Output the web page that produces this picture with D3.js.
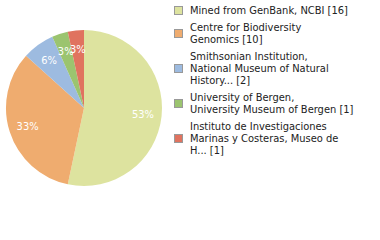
<html>
<head>
<script src="https://d3js.org/d3.v7.min.js"></script>
<style>
body { margin: 0; background: #fff; }
text { font-family: "DejaVu Sans Condensed", "DejaVu Sans", sans-serif; }
</style>
</head>
<body>
<div id="chart"></div>
<script>
// data
var names = [
  ["Mined from GenBank, NCBI [16]"],
  ["Centre for Biodiversity", "Genomics [10]"],
  ["Smithsonian Institution,", "National Museum of Natural", "History... [2]"],
  ["University of Bergen,", "University Museum of Bergen [1]"],
  ["Instituto de Investigaciones", "Marinas y Costeras, Museo de", "H... [1]"]
];
var counts = [16, 10, 2, 1, 1];
var colors = ["#dde39f", "#efac6f", "#9dbbe0", "#9bc46f", "#e0735f"];

var width = 380, height = 240;
var cx = 84, cy = 108, radius = 78;

var svg = d3.select("#chart").append("svg")
  .attr("width", width)
  .attr("height", height);

var total = d3.sum(counts);
var pie = d3.pie().sort(null).value(function(d) { return d; });
var arcs = pie(counts);
var arc = d3.arc().innerRadius(0).outerRadius(radius);
var labelArc = d3.arc().innerRadius(radius * 0.76).outerRadius(radius * 0.76);

var g = svg.append("g").attr("transform", "translate(" + cx + "," + cy + ")");

g.selectAll("path.slice")
  .data(arcs)
  .enter().append("path")
  .attr("class", "slice")
  .attr("d", arc)
  .attr("fill", function(d, i) { return colors[i]; });

g.selectAll("text.pct")
  .data(arcs)
  .enter().append("text")
  .attr("class", "pct")
  .attr("transform", function(d) { return "translate(" + labelArc.centroid(d) + ")"; })
  .attr("text-anchor", "middle")
  .attr("dy", "0.35em")
  .attr("fill", "#fff")
  .style("font-size", "11px")
  .text(function(d) { return Math.floor(d.value / total * 100) + "%"; });

// legend
var lineH = 12, gap = 5, legTop = 4;
var leg = svg.append("g");
var yy = legTop;
names.forEach(function(lines, i) {
  var blockH = lines.length * lineH;
  leg.append("rect")
    .attr("x", 174.5)
    .attr("y", Math.round(yy + blockH / 2 - 4) + 0.5)
    .attr("width", 8)
    .attr("height", 8)
    .attr("fill", colors[i])
    .attr("stroke", "#999");
  lines.forEach(function(t, j) {
    leg.append("text")
      .attr("x", 190)
      .attr("y", yy + j * lineH + 10)
      .attr("fill", "#222")
      .style("font-size", "11px")
      .text(t);
  });
  yy += blockH + gap;
});
</script>
</body>
</html>
